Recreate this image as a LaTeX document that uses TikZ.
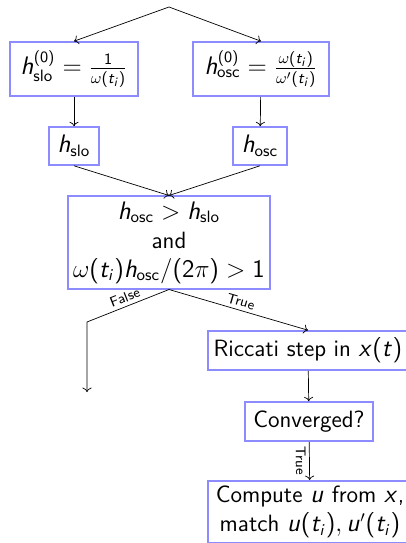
\documentclass[tikz,border=0pt]{standalone}
\usepackage{amsmath}
\usepackage{tikz}
\usetikzlibrary{arrows.meta,positioning}
% sans digits and slanted sans letters in math
\SetSymbolFont{operators}{normal}{OT1}{cmss}{m}{n}
\DeclareSymbolFont{sfletters}{OT1}{cmss}{m}{sl}
\DeclareMathSymbol{h}{\mathalpha}{sfletters}{`h}
\DeclareMathSymbol{t}{\mathalpha}{sfletters}{`t}
\DeclareMathSymbol{i}{\mathalpha}{sfletters}{`i}
\DeclareMathSymbol{u}{\mathalpha}{sfletters}{`u}
\DeclareMathSymbol{x}{\mathalpha}{sfletters}{`x}
\tikzset{
  flowbox/.style={draw=blue!45, line width=0.9pt, align=center,
    font=\fontsize{13.4}{16.5}\selectfont\sffamily, inner sep=3pt},
  arr/.style={->, thin},
  lbl/.style={font=\footnotesize\sffamily, sloped, inner sep=2pt},
}
\newcommand{\slo}{\text{slo}}
\newcommand{\osc}{\text{osc}}

\begin{document}
\begin{tikzpicture}
  \clip (0,0) rectangle (8.12,-10.86);
  \useasboundingbox (0,0) rectangle (8.12,-10.86);

  % starting guesses
  \coordinate (start) at (3.38,-0.14);
  \node[flowbox, minimum width=2.56cm, minimum height=1.08cm]
    (initslo) at (1.48,-1.38) {$h_{\slo}^{(0)} = \frac{1}{\omega(t_i)}$};
  \node[flowbox, minimum width=2.72cm, minimum height=1.08cm]
    (initosc) at (5.22,-1.38) {$h_{\osc}^{(0)} = \frac{\omega(t_i)}{\omega'(t_i)}$};
  \draw[arr] (start) -- (initslo.north);
  \draw[arr] (start) -- (initosc.north);

  % refined step sizes
  \node[flowbox, minimum width=1.0cm, minimum height=0.76cm]
    (hslo) at (1.48,-2.92) {$h_{\slo}$};
  \node[flowbox, minimum width=1.08cm, minimum height=0.76cm]
    (hosc) at (5.2,-2.92) {$h_{\osc}$};
  \draw[arr] (initslo) -- (hslo);
  \draw[arr] (initosc) -- (hosc);

  % decision
  \node[flowbox, minimum width=3.96cm, minimum height=1.82cm]
    (cond) at (3.38,-4.85) {$h_{\osc} > h_{\slo}$\\ and\\
    $\omega(t_i)h_{\osc}/(2\pi) > 1$};
  \draw[arr] (hslo.south) -- (cond.north);
  \draw[arr] (hosc.south) -- (cond.north);

  % false branch
  \coordinate (fcorner) at (1.74,-6.44);
  \coordinate (fend) at (1.74,-7.84);
  \draw[arr] (cond.south) -- node[lbl, above] {False} (fcorner) -- (fend);

  % true branch
  \node[flowbox, minimum width=4.0cm, minimum height=0.78cm]
    (riccati) at (6.16,-7.01) {Riccati step in $x(t)$};
  \draw[arr] (cond.south) -- node[lbl, above] {True} (riccati.north);

  \node[flowbox, minimum width=2.56cm, minimum height=0.78cm]
    (conv) at (6.18,-8.43) {Converged?};
  \draw[arr] (riccati) -- (conv);

  \node[flowbox, minimum width=4.08cm, minimum height=1.24cm]
    (match) at (6.2,-10.24) {Compute $u$ from $x$,\\ match $u(t_i), u'(t_i)$};
  \draw[arr] (conv) -- node[lbl, below] {True} (match);
\end{tikzpicture}
\end{document}
